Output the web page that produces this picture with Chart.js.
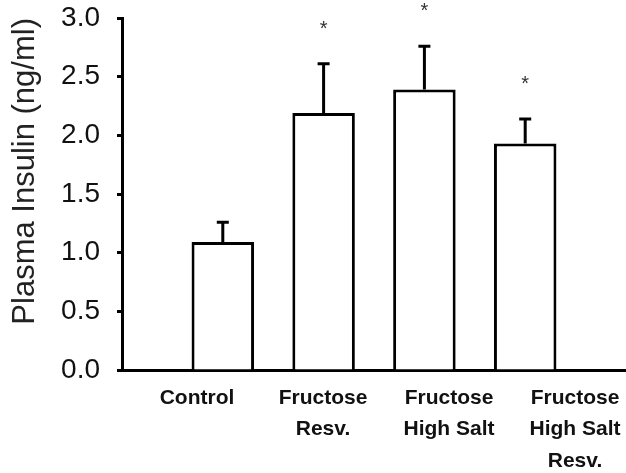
<!DOCTYPE html>
<html>
<head>
<meta charset="utf-8">
<script src="https://cdn.jsdelivr.net/npm/chart.js@4"></script>
<style>
  html, body { margin: 0; padding: 0; background: #fff; }
  #wrap { width: 626px; height: 473px; }
</style>
</head>
<body>
<div id="wrap"><canvas id="insulin"></canvas></div>
<script>
// values
const groupLabels = [
  ['Control'],
  ['Fructose', 'Resv.'],
  ['Fructose', 'High Salt'],
  ['Fructose', 'High Salt', 'Resv.']
];
const meanInsulin = [1.09, 2.19, 2.39, 1.93];
const semInsulin = [0.17, 0.42, 0.37, 0.21];
const significant = [false, true, true, true];
const yMin = 0, yMax = 3, yStep = 0.5;

// upper error bars + asterisks
const errorBars = {
  id: 'errorBars',
  afterDatasetsDraw(chart) {
    const ctx = chart.ctx;
    const meta = chart.getDatasetMeta(0);
    const y = chart.scales.y;
    ctx.save();
    ctx.strokeStyle = '#000';
    ctx.lineWidth = 3;
    meta.data.forEach((bar, i) => {
      const top = y.getPixelForValue(meanInsulin[i]);
      const cap = y.getPixelForValue(meanInsulin[i] + semInsulin[i]);
      ctx.beginPath();
      ctx.moveTo(bar.x, top);
      ctx.lineTo(bar.x, cap);
      ctx.moveTo(bar.x - 6, cap);
      ctx.lineTo(bar.x + 6, cap);
      ctx.stroke();
      if (significant[i]) {
        ctx.fillStyle = '#333';
        ctx.font = '20px "Liberation Sans", Arial, sans-serif';
        ctx.textAlign = 'center';
        ctx.textBaseline = 'alphabetic';
        ctx.fillText('*', bar.x, cap - 29);
      }
    });
    ctx.restore();
  }
};

new Chart(document.getElementById('insulin'), {
  type: 'bar',
  data: {
    labels: groupLabels,
    datasets: [{
      data: meanInsulin.map((v, i) => ({ x: i + 1, y: v })),
      xAxisID: 'x',
      backgroundColor: '#fff',
      borderColor: '#000',
      borderWidth: 3,
      barPercentage: 0.62,
      categoryPercentage: 1
    }]
  },
  options: {
    responsive: true,
    maintainAspectRatio: false,
    animation: false,
    layout: { padding: { top: 18, right: 0, bottom: 0, left: 0 } },
    plugins: { legend: { display: false }, tooltip: { enabled: false } },
    scales: {
      x: {
        type: 'linear',
        display: false,
        offset: false,
        min: 0,
        max: groupLabels.length + 1,
        ticks: { stepSize: 1 }
      },
      groups: {
        type: 'category',
        position: 'bottom',
        labels: groupLabels,
        offset: true,
        grid: { display: false, drawTicks: false },
        border: { display: true, color: '#000', width: 3 },
        ticks: {
          color: '#111',
          padding: 12,
          labelOffset: 12,
          maxRotation: 0,
          autoSkip: false,
          font: { family: '"Liberation Sans", Arial, sans-serif', size: 21, weight: 'bold', lineHeight: 1.5 }
        },
        afterFit(scale) { scale.height = 103; }
      },
      y: {
        min: yMin,
        max: yMax,
        grid: { drawOnChartArea: false, drawTicks: true, tickLength: 5, tickColor: '#000', tickWidth: 3 },
        border: { display: true, color: '#000', width: 3 },
        ticks: {
          stepSize: yStep,
          color: '#111',
          padding: 17,
          font: { family: '"Liberation Sans", Arial, sans-serif', size: 28 },
          callback: v => v.toFixed(1)
        },
        title: {
          display: true,
          text: 'Plasma Insulin (ng/ml)',
          align: 'end',
          color: '#222',
          padding: { top: 7, bottom: 0 },
          font: { family: '"Liberation Sans", Arial, sans-serif', size: 31 }
        },
        afterFit(scale) {
          scale.width = 122;
          scale.paddingTop = 0;
          scale.paddingBottom = 0;
        }
      }
    }
  },
  plugins: [errorBars]
});
</script>
</body>
</html>
